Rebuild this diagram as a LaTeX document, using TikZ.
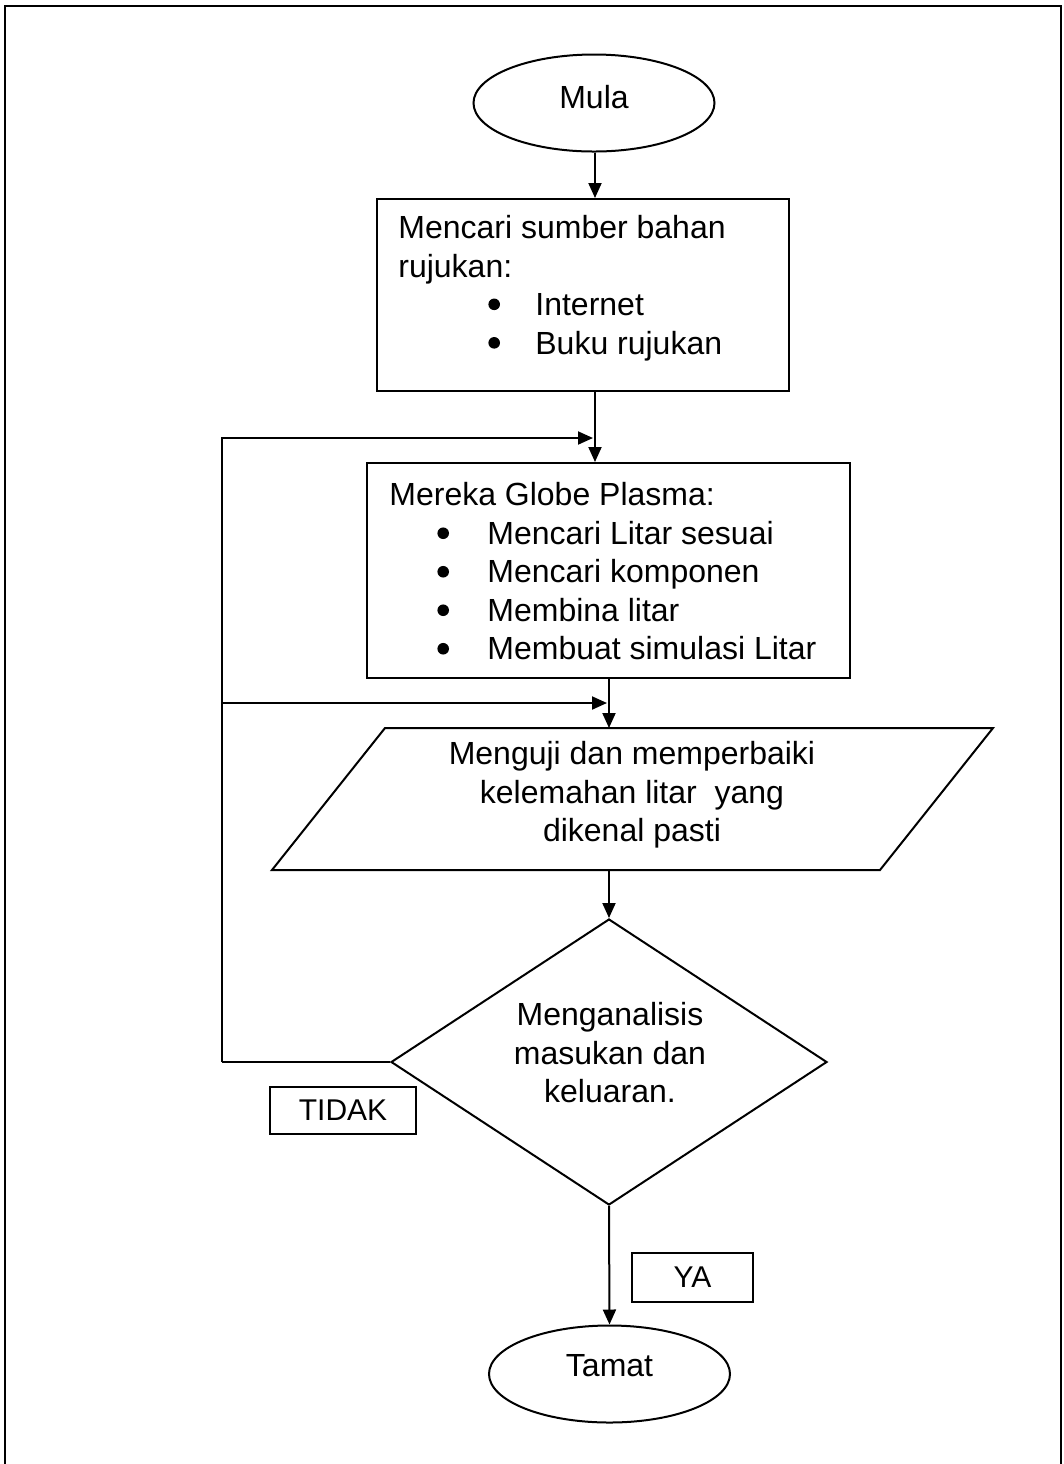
\documentclass[tikz,border=0pt]{standalone}
\usepackage{fontspec}
\setmainfont{Liberation Sans}
\usetikzlibrary{shapes.geometric,arrows.meta}
\newcommand{\bigdot}{\tikz[baseline=-5.6pt]\fill[black] (0,0) circle (2.9pt);}
\begin{document}
\begin{tikzpicture}[x=0.5pt,y=-0.5pt,
  txt/.style={inner sep=0pt, font=\fontsize{16}{19.25}\selectfont},
  shp/.style={draw, line width=1pt, inner sep=0pt},
  term/.style={shp, ellipse, minimum width=120.5pt, minimum height=48.5pt, font=\fontsize{16}{19.25}\selectfont},
  procbox/.style={shp, rectangle},
  lbl/.style={shp, rectangle, font=\fontsize{15}{18}\selectfont},
  arr/.style={line width=1pt, -{Triangle[length=7.5pt,width=6.5pt]}},
  ln/.style={line width=1pt}]
\useasboundingbox (0,0) rectangle (1064,1464);
% page frame
\draw[line width=1.1pt] (5,1464) -- (5,6) -- (1061,6) -- (1061,1464);

% Start
\node[term] (mula) at (594,103) {\raisebox{3pt}[\height][\depth]{Mula}};

% Box 1
\node[procbox, minimum width=206pt, minimum height=96pt] (b1) at (583,295) {};
\node[txt, anchor=west, align=left] (b1t) at (398,288)
 {Mencari sumber bahan\\rujukan:\\
  \hspace*{45pt}\makebox[23.5pt][l]{\bigdot}Internet\\
  \hspace*{45pt}\makebox[23.5pt][l]{\bigdot}Buku rujukan};

% Box 2
\node[procbox, minimum width=241.5pt, minimum height=107.5pt] (b2) at (608.5,570.5) {};
\node[txt, anchor=west, align=left] (b2t) at (389,571.5)
 {Mereka Globe Plasma:\\
  \hspace*{24pt}\makebox[25pt][l]{\bigdot}Mencari Litar sesuai\\
  \hspace*{24pt}\makebox[25pt][l]{\bigdot}Mencari komponen\\
  \hspace*{24pt}\makebox[25pt][l]{\bigdot}Membina litar\\
  \hspace*{24pt}\makebox[25pt][l]{\bigdot}Membuat simulasi Litar};

% Parallelogram
\coordinate (pa) at (385,728);
\coordinate (pb) at (993,728);
\coordinate (pc) at (880,870);
\coordinate (pd) at (272,870);
\draw[ln] (pa) -- (pb) -- (pc) -- (pd) -- cycle;
\coordinate (ptop) at (609,728);
\coordinate (pbot) at (609,870);
\node[txt, align=center] (pt) at (632,795)
 {Menguji dan memperbaiki\\kelemahan litar~ yang\\dikenal pasti};

% Decision
\node[shp, diamond, minimum width=218pt, minimum height=143pt] (d) at (609,1062) {};
\node[txt, align=center] (dt) at (610,1053) {Menganalisis\\masukan dan\\keluaran.};

% End
\node[term] (tamat) at (609.5,1374) {\raisebox{4pt}[\height][\depth]{Tamat}};

% Labels
\node[lbl, minimum width=73pt, minimum height=23.5pt] (tidak) at (343,1110.5) {TIDAK};
\node[lbl, minimum width=60.5pt, minimum height=24.5pt] (ya) at (692.5,1277.5) {YA};

% Loop coordinates
\coordinate (L) at (222,1062);
\coordinate (j1) at (593,438);
\coordinate (j2) at (607,703);

% Connectors
\draw[arr] (mula.south -| 595,0) -- (b1.north -| 595,0);
\draw[arr] (b1.south -| 595,0) -- (b2.north -| 595,0);
\draw[arr] (b2.south -| ptop) -- (ptop);
\draw[arr] (pbot) -- (d.north);
\draw[arr] (d.south) -- (tamat.north);
\draw[ln] (d.west) -- (L);
\draw[arr] (L) |- (j1);
\draw[arr] (L |- j2) -- (j2);
\end{tikzpicture}
\end{document}
